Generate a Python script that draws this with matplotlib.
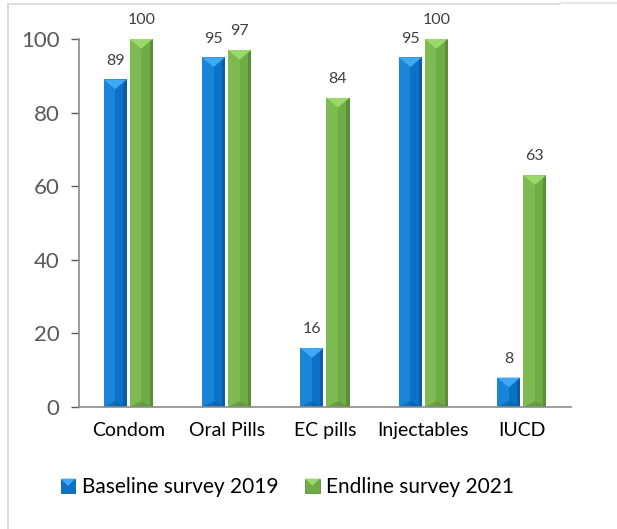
import matplotlib
matplotlib.use("Agg")
import matplotlib.pyplot as plt
import numpy as np
from matplotlib.patches import Polygon, Rectangle
from matplotlib.lines import Line2D
from matplotlib.legend_handler import HandlerBase

categories = ["Condom", "Oral Pills", "EC pills", "Injectables", "IUCD"]
baseline_2019 = [89, 95, 16, 95, 8]
endline_2021 = [100, 97, 84, 100, 63]
series_names = ["Baseline survey 2019", "Endline survey 2021"]

# main, light, lighter (top facet), dark
blue = ("#0B72C6", "#1A84D8", "#3FA9F5", "#0A5DA3")
green = ("#6FAC46", "#7DBB52", "#9BD86A", "#5A8E37")

plt.rcParams["font.family"] = ["Lato", "DejaVu Sans"]

fig = plt.figure(figsize=(6.17, 5.29), dpi=100)
ax = fig.add_axes([0.128, 0.2306, 0.7974, 0.6957])

x = np.arange(len(categories))
w = 0.235
gap = 0.03
ax.set_xlim(-0.5, len(categories) - 0.5)
ax.set_ylim(0, 100)

# pixel -> data scale, used to keep the bevel facets square-ish
p0 = ax.transData.transform((0, 0))
p1 = ax.transData.transform((1, 1))
px_x = 1.0 / (p1[0] - p0[0])
px_y = 1.0 / (p1[1] - p0[1])


def bevel_bar(x0, width, height, cols):
    main, light, top, dark = cols
    x1 = x0 + width
    xc = x0 + width / 2
    tri = (width / px_x) * 0.42 * px_y
    tri = min(tri, height / 2)
    ax.add_patch(Rectangle((x0, 0), width, height, facecolor=main, edgecolor="none"))
    ax.add_patch(Rectangle((x0, 0), width * 0.5, height, facecolor=light, edgecolor="none"))
    ax.add_patch(Rectangle((x1 - width * 0.14, 0), width * 0.14, height, facecolor=dark, edgecolor="none"))
    ax.add_patch(Polygon([(x0, height), (x1, height), (xc, height - tri)],
                         closed=True, facecolor=top, edgecolor="none"))
    ax.add_patch(Polygon([(x0, 0), (x1, 0), (xc, min(tri * 0.6, height / 2))],
                         closed=True, facecolor=dark, edgecolor="none", alpha=0.6))


for xi, b, e in zip(x, baseline_2019, endline_2021):
    bars = [(xi - gap / 2 - w, b, blue), (xi + gap / 2, e, green)]
    for x0, v, cols in bars:
        bevel_bar(x0, w, v, cols)
        ax.text(x0 + w / 2, v + 3.2, str(v), ha="center", va="bottom",
                fontsize=11.5, color="#404040")

ax.set_xticks(x)
ax.set_xticklabels(categories, fontsize=14, color="black")
ax.set_yticks(range(0, 101, 20))
ax.tick_params(axis="y", labelsize=16, colors="#595959", length=6, width=1, pad=8)
ax.tick_params(axis="x", length=0, pad=11)
for s in ["top", "right"]:
    ax.spines[s].set_visible(False)
for s in ["left", "bottom"]:
    ax.spines[s].set_color("#8C8C8C")
    ax.spines[s].set_linewidth(1.2)


class BevelHandler(HandlerBase):
    def __init__(self, cols):
        super().__init__()
        self.cols = cols

    def create_artists(self, legend, orig_handle, xdescent, ydescent,
                       width, height, fontsize, trans):
        main, light, top, dark = self.cols
        s = height * 1.0
        x0 = width - s
        y0 = (height - s) / 2 - ydescent
        arts = [
            Rectangle((x0, y0), s, s, facecolor=main, edgecolor=dark, lw=0.6, transform=trans),
            Polygon([(x0, y0 + s), (x0 + s, y0 + s), (x0 + s / 2, y0 + s / 2)],
                    closed=True, facecolor=top, edgecolor="none", transform=trans),
        ]
        return arts


h1 = Rectangle((0, 0), 1, 1, facecolor=blue[0])
h2 = Rectangle((0, 0), 1, 1, facecolor=green[0])
fig.legend([h1, h2], series_names, loc="center", bbox_to_anchor=(0.464, 0.079),
           ncol=2, frameon=False, fontsize=15, handlelength=0.8, handletextpad=0.3,
           columnspacing=1.2, handler_map={h1: BevelHandler(blue), h2: BevelHandler(green)})

# light outer frame on the top and left
fig.add_artist(Line2D([8 / 617, 8 / 617], [0, 1 - 4 / 529], color="#D9D9D9", lw=1.5))
fig.add_artist(Line2D([8 / 617, 560 / 617], [1 - 4 / 529, 1 - 4 / 529], color="#D9D9D9", lw=1.2))
fig.add_artist(Line2D([560 / 617, 1], [1 - 3 / 529, 1 - 3 / 529], color="#E6E6E6", lw=1.5))

fig.savefig("out.png", dpi=100)
